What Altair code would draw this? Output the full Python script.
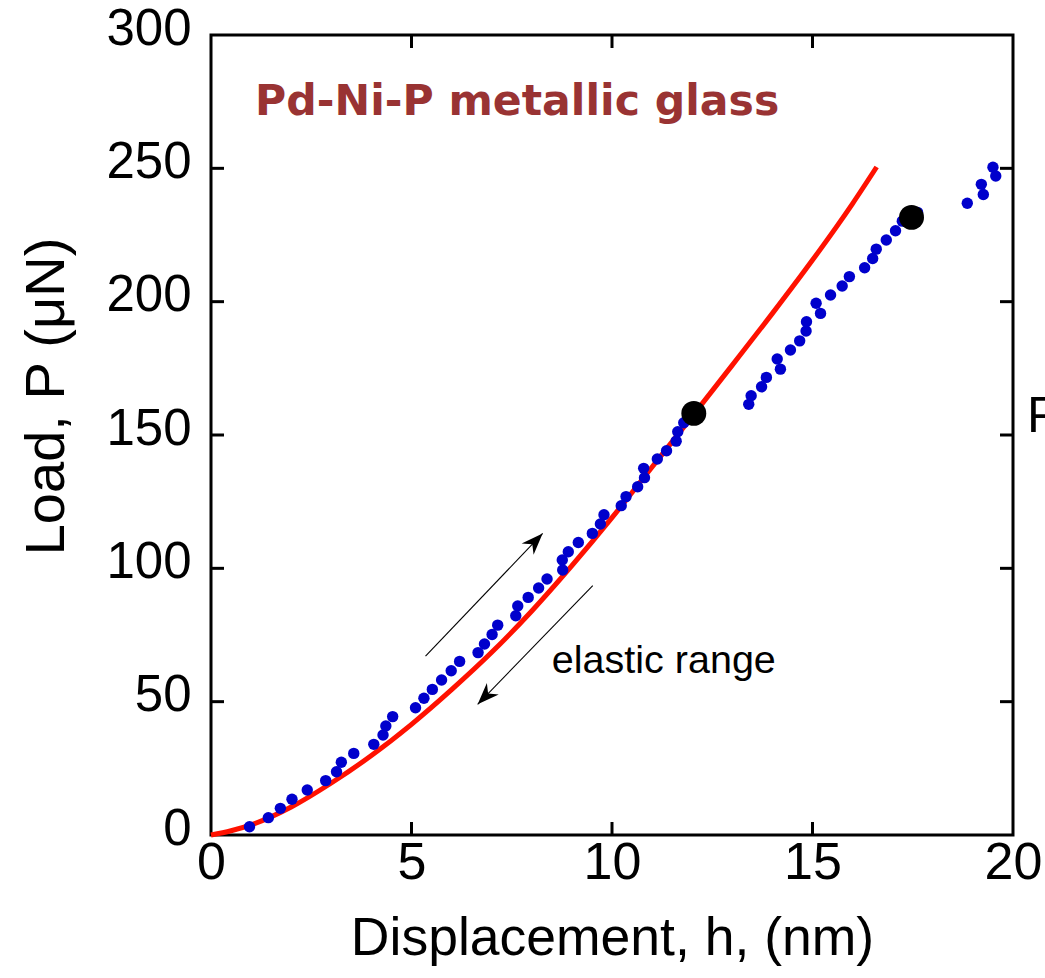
import altair as alt
import pandas as pd

# Measured load-displacement points (blue)
disp = [0.96, 1.43, 1.73, 2.02, 2.40, 2.86, 3.13, 3.25, 3.56, 4.06, 4.29, 4.36, 4.53,
        5.10, 5.31, 5.52, 5.75, 5.99, 6.20, 6.66, 6.82, 7.01, 7.15, 7.60, 7.65, 7.91,
        8.17, 8.38, 8.77, 8.76, 8.91, 9.16, 9.51, 9.71, 9.80, 10.23, 10.35, 10.64, 10.81,
        10.79, 11.13, 11.36, 11.60, 11.64, 11.79,
        13.41, 13.47, 13.73, 13.85, 14.20, 14.12, 14.45, 14.68, 14.84, 14.85, 15.20,
        15.09, 15.45, 15.74, 15.92, 16.30, 16.50, 16.59, 16.84, 17.07, 17.24, 17.62,
        18.86, 19.26, 19.21, 19.57, 19.50]
load = [3.1, 6.5, 10.0, 13.4, 16.9, 20.4, 23.7, 27.3, 30.6, 34.0, 37.5, 40.9, 44.4,
        47.7, 51.3, 54.6, 58.1, 61.6, 65.1, 68.4, 71.6, 75.2, 78.7, 82.2, 85.9, 89.1,
        92.6, 96.0, 99.4, 103.1, 106.2, 109.7, 113.1, 116.6, 120.1, 123.5, 126.9, 130.6, 134.0,
        137.5, 141.0, 144.1, 147.7, 151.2, 154.6,
        161.5, 164.7, 168.1, 171.6, 174.7, 178.5, 181.9, 185.3, 189.0, 192.5, 195.6,
        199.4, 202.5, 205.9, 209.4, 212.7, 216.2, 219.7, 223.1, 226.6, 230.2, 233.5,
        236.9, 240.2, 244.0, 247.1, 250.4]

# Pop-in onset points (black)
pop_h = [12.04, 17.47]
pop_p = [158.1, 231.6]

# Elastic (Hertzian) fit curve (red)
fit_h = [0, 0.5, 1, 2, 3, 4, 5, 6, 7, 8, 9, 10, 11, 12, 13, 14, 15, 16, 16.6]
fit_p = [0, 1.6, 3.8, 10.5, 19.5, 29.8, 41.5, 54.5, 68.5, 84, 101, 119, 138, 157, 176.2,
         195.6, 215.6, 236.8, 250.5]

x_ticks = [0, 5, 10, 15, 20]
y_ticks = [0, 50, 100, 150, 200, 250, 300]

# Annotation arrows: tail -> tip
arrow_h0 = [5.35, 9.52]
arrow_p0 = [67.1, 93.5]
arrow_h1 = [8.27, 6.65]
arrow_p1 = [113.1, 49.0]
arrow_angle = [43.6, 224.1]

W, H = 802, 800
FONT = "Liberation Sans"

xs = alt.Scale(domain=[0, 20], nice=False, zero=False)
ys = alt.Scale(domain=[0, 300], nice=False, zero=False)

x_axis = alt.Axis(values=x_ticks, ticks=False, domain=False, grid=False,
                  labelFont=FONT, labelFontSize=52, labelColor="black", labelPadding=2,
                  labelFlush=False, labelOverlap=False,
                  title="Displacement, h, (nm)", titleFont=FONT, titleFontSize=53.5,
                  titleFontWeight="normal", titleColor="black", titlePadding=24)
y_axis = alt.Axis(values=y_ticks, ticks=False, domain=False, grid=False,
                  labelFont=FONT, labelFontSize=51, labelColor="black", labelPadding=20,
                  labelOffset=-6, labelFlush=False, labelOverlap=False,
                  title="Load, P (μN)", titleFont=FONT, titleFontSize=56,
                  titleFontWeight="normal", titleColor="black",
                  titleX=-148, titleY=361, titleBaseline="alphabetic")


def X(field):
    return alt.X(field, scale=xs, axis=x_axis)


def Y(field):
    return alt.Y(field, scale=ys, axis=y_axis)


pts = pd.DataFrame({"h": disp, "P": load})
pops = pd.DataFrame({"h": pop_h, "P": pop_p})
fit = pd.DataFrame({"h": fit_h, "P": fit_p})

fit_line = alt.Chart(fit).mark_line(color="#ff1100", strokeWidth=5, interpolate="monotone").encode(
    x=X("h:Q"), y=Y("P:Q"))

dots = alt.Chart(pts).mark_point(filled=True, color="#0000cc", opacity=1, size=130).encode(
    x=X("h:Q"), y=Y("P:Q"))

big = alt.Chart(pops).mark_point(filled=True, color="black", opacity=1, size=620).encode(
    x=X("h:Q"), y=Y("P:Q"))

# Inward tick marks on all four sides
xt = pd.DataFrame({"v": x_ticks[1:-1]})
yt = pd.DataFrame({"v": y_ticks[1:-1]})
TL = 13
tick_style = dict(color="black", strokeWidth=3)
ticks_bottom = alt.Chart(xt).mark_rule(**tick_style).encode(
    x=X("v:Q"), y=alt.value(H - TL), y2=alt.value(H))
ticks_top = alt.Chart(xt).mark_rule(**tick_style).encode(
    x=X("v:Q"), y=alt.value(0), y2=alt.value(TL))
ticks_left = alt.Chart(yt).mark_rule(**tick_style).encode(
    y=Y("v:Q"), x=alt.value(0), x2=alt.value(TL))
ticks_right = alt.Chart(yt).mark_rule(**tick_style).encode(
    y=Y("v:Q"), x=alt.value(W - TL), x2=alt.value(W))

arrows = pd.DataFrame({"h0": arrow_h0, "p0": arrow_p0, "h1": arrow_h1, "p1": arrow_p1,
                       "ang": arrow_angle})
arrow_lines = alt.Chart(arrows).mark_rule(color="black", strokeWidth=1.1).encode(
    x=X("h0:Q"), y=Y("p0:Q"), x2="h1:Q", y2="p1:Q")
arrow_heads = alt.Chart(arrows).mark_point(
    filled=True, color="black", opacity=1, size=900,
    shape="M0,0 L0.55,1.45 L0,1.0 L-0.55,1.45 Z").encode(
    x=X("h1:Q"), y=Y("p1:Q"), angle=alt.Angle("ang:Q", scale=None))

labels = pd.DataFrame({"h": [1.1], "P": [270], "t": ["Pd-Ni-P metallic glass"]})
title_txt = alt.Chart(labels).mark_text(
    font="DejaVu Sans", fontWeight="bold", fontSize=42.6, color="#993333",
    align="left", baseline="alphabetic").encode(x=X("h:Q"), y=Y("P:Q"), text="t:N")

elastic = pd.DataFrame({"h": [8.5], "P": [60.6], "t": ["elastic range"]})
elastic_txt = alt.Chart(elastic).mark_text(
    font=FONT, fontSize=39.5, color="black", align="left", baseline="alphabetic").encode(
    x=X("h:Q"), y=Y("P:Q"), text="t:N")

side = pd.DataFrame({"h": [20.35], "P": [151], "t": ["F"]})
side_txt = alt.Chart(side).mark_text(
    font=FONT, fontSize=50, color="black", align="left", baseline="alphabetic").encode(
    x=X("h:Q"), y=Y("P:Q"), text="t:N")

chart = alt.layer(
    fit_line, dots, big, ticks_bottom, ticks_top, ticks_left, ticks_right,
    arrow_lines, arrow_heads, title_txt, elastic_txt, side_txt
).properties(
    width=W, height=H,
    background="white",
    autosize=alt.AutoSizeParams(type="none"),
    padding={"left": 211, "top": 35, "right": 32, "bottom": 143},
).configure_view(
    stroke="black", strokeWidth=3
)

chart.save("out.html", embed_options={"renderer": "svg", "actions": False})
